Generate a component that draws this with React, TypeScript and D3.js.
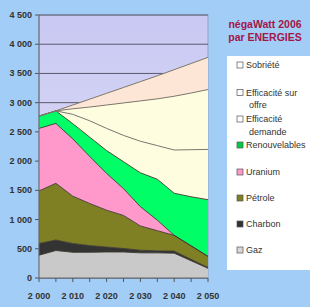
import React from "react";
import * as d3 from "d3";

const years = [2000, 2005, 2010, 2015, 2020, 2025, 2030, 2035, 2040, 2045, 2050];
const gaz = [390, 470, 440, 440, 445, 445, 430, 430, 425, 295, 165];
const charbon = [200, 180, 150, 115, 85, 60, 45, 35, 35, 25, 15];
const petrole = [900, 970, 810, 720, 630, 565, 415, 345, 270, 230, 190];
const uranium = [1070, 1025, 980, 805, 630, 460, 330, 180, 0, 0, 0];
const renouvelables = [210, 215, 260, 330, 390, 460, 580, 700, 720, 840, 970];
const efficaciteDemande = [0, 0, 160, 280, 380, 450, 540, 575, 740, 805, 860];
const efficaciteOffre = [0, 0, 95, 235, 400, 555, 690, 800, 920, 970, 1025];
const sobriete = [0, 0, 65, 135, 200, 265, 330, 395, 455, 505, 550];

const yTicks = [0, 500, 1000, 1500, 2000, 2500, 3000, 3500, 4000, 4500];
const xTickLabels = [2000, 2010, 2020, 2030, 2040, 2050];
const xMinorTicks = years;

const seriesKeys = ["Gaz", "Charbon", "Pétrole", "Uranium", "Renouvelables", "Efficacité demande", "Efficacité sur offre", "Sobriété"];
const seriesValues = [gaz, charbon, petrole, uranium, renouvelables, efficaciteDemande, efficaciteOffre, sobriete];
const seriesColors = ["#c9c9c9", "#333333", "#7f7f24", "#ff99cc", "#00ff66", "#fffde0", "#fffde0", "#fde6d6"];

const legendItems = [
  { lines: ["Sobriété"], color: "#ffffff" },
  { lines: ["Efficacité sur", "offre"], color: "#ffffff" },
  { lines: ["Efficacité", "demande"], color: "#ffffff" },
  { lines: ["Renouvelables"], color: "#00cc44" },
  { lines: ["Uranium"], color: "#ff99cc" },
  { lines: ["Pétrole"], color: "#7f7f24" },
  { lines: ["Charbon"], color: "#333333" },
  { lines: ["Gaz"], color: "#d8d8d8" },
];
const legendY = [65, 92.5, 119, 145, 172, 198, 224, 250];

export default function App() {
  const W = 310, H = 307;
  const x = d3.scaleLinear().domain([2000, 2050]).range([39, 208]);
  const y = d3.scaleLinear().domain([0, 4500]).range([278, 15]);

  const table = years.map((yr, i) => {
    const row: any = { year: yr };
    seriesKeys.forEach((k, j) => (row[k] = seriesValues[j][i]));
    return row;
  });
  const stacked = d3.stack().keys(seriesKeys)(table);
  const area = d3.area<any>().x((d) => x(d.data.year)).y0((d) => y(d[0])).y1((d) => y(d[1]));
  const topLine = d3.line<any>().x((d) => x(d.data.year)).y((d) => y(d[1]));

  const font = "'Liberation Sans', Arial, sans-serif";

  return (
    <svg width={W} height={H} style={{ position: "absolute", left: 0, top: 0 }} fontFamily={font}>
      <defs>
        <linearGradient id="plotbg" x1="0" y1="0" x2="0" y2="1">
          <stop offset="0" stopColor="#c9c8f3" />
          <stop offset="1" stopColor="#e2e2f8" />
        </linearGradient>
      </defs>
      <rect x={0} y={0} width={W} height={H} fill="#a2cdf6" />
      <rect x={39} y={15} width={169} height={263} fill="url(#plotbg)" stroke="#8fa3c6" strokeWidth={1} />
      {yTicks.map((t) => (
        <g key={t}>
          <line x1={39} x2={208} y1={y(t)} y2={y(t)} stroke="#5a5a6a" strokeWidth={1} />
          <line x1={35} x2={39} y1={y(t)} y2={y(t)} stroke="#555" strokeWidth={1} />
          <text x={32} y={y(t) + 3} textAnchor="end" fontSize={9} fontWeight="bold" fill="#333">
            {d3.format(",")(t).replace(",", " ")}
          </text>
        </g>
      ))}
      {stacked.map((s, i) => (
        <path key={s.key} d={area(s) || ""} fill={seriesColors[i]} stroke="none" />
      ))}
      {stacked.map((s, i) => (
        <path key={s.key + "l"} d={topLine(s) || ""} fill="none" stroke={i >= 5 ? "#7c786c" : "#3e3a30"} strokeWidth={i >= 5 ? 1 : 0.9} />
      ))}
      <line x1={39} x2={39} y1={15} y2={278} stroke="#666" strokeWidth={1} />
      <line x1={39} x2={208} y1={278} y2={278} stroke="#666" strokeWidth={1} />
      {xMinorTicks.map((t) => (
        <line key={t} x1={x(t)} x2={x(t)} y1={278} y2={282} stroke="#555" strokeWidth={1} />
      ))}
      {xTickLabels.map((t) => (
        <text key={t} x={x(t)} y={299} textAnchor="middle" fontSize={9} fontWeight="bold" fill="#333">
          {d3.format(",")(t).replace(",", " ")}
        </text>
      ))}
      <text x={265} y={28} textAnchor="middle" fontSize={10.5} fontWeight="bold" fill="#a3164a">négaWatt 2006</text>
      <text x={265} y={41} textAnchor="middle" fontSize={10.5} fontWeight="bold" fill="#a3164a">par ENERGIES</text>
      <rect x={227} y={56} width={83} height={214} fill="#ffffff" />
      {legendItems.map((it, i) => (
        <g key={i}>
          <rect x={237} y={legendY[i] - 3} width={6} height={6} fill={it.color} stroke="#555" strokeWidth={0.7} />
          {it.lines.map((ln, j) => (
            <text key={j} x={j === 0 ? 246 : 249} y={legendY[i] + 3 + j * 12.5} fontSize={9} fill="#333">
              {ln}
            </text>
          ))}
        </g>
      ))}
    </svg>
  );
}
